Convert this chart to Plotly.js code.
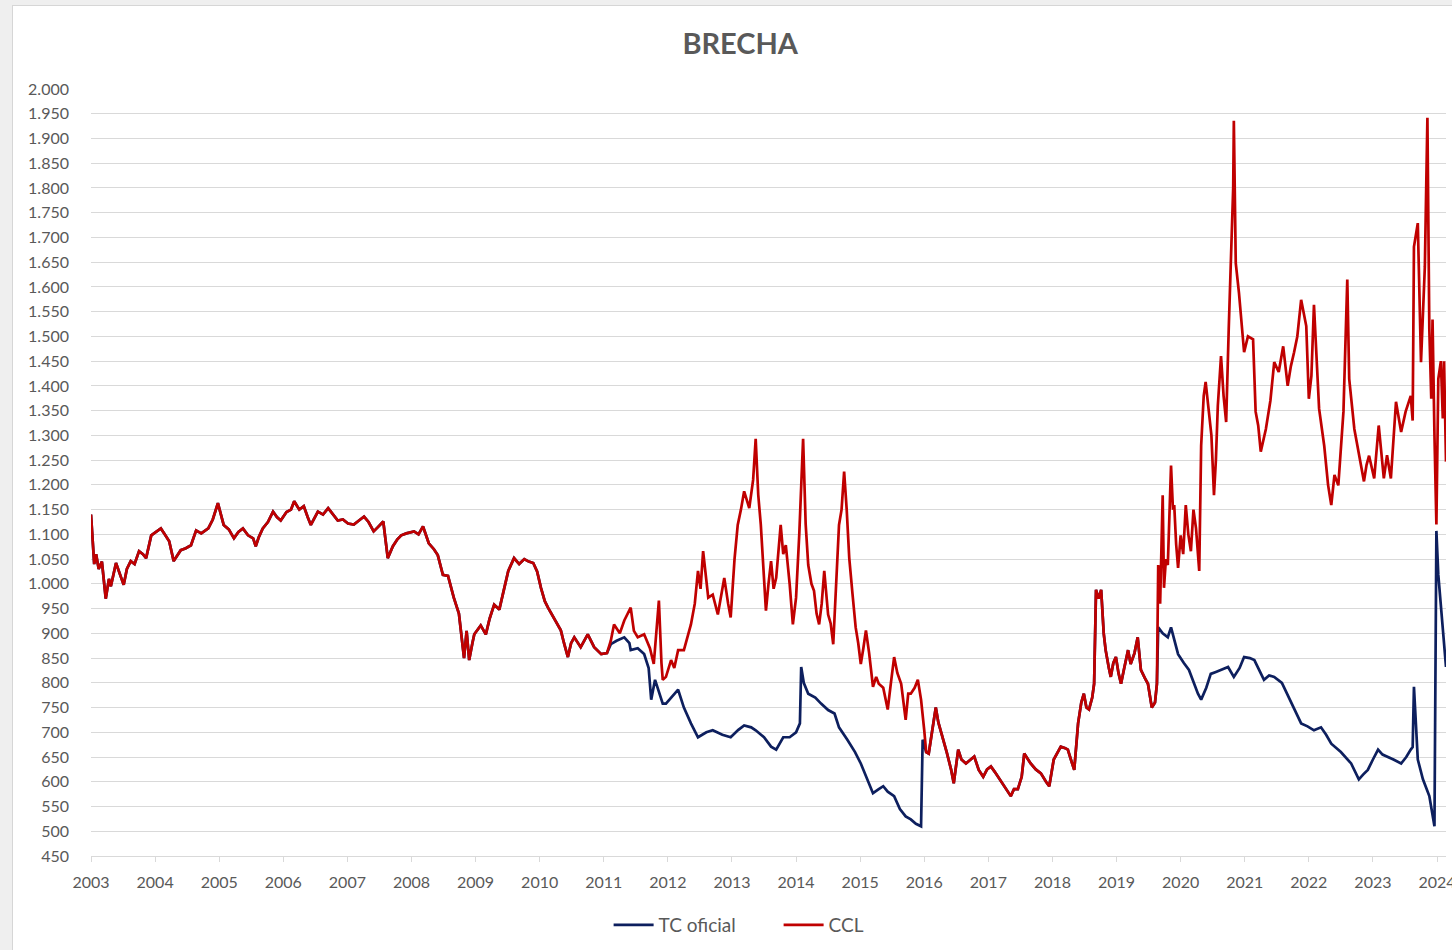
<!DOCTYPE html>
<html>
<head>
<meta charset="utf-8">
<script src="https://cdn.plot.ly/plotly-3.0.1.min.js"></script>
<style>
  html, body { margin: 0; padding: 0; background: #efefef; width: 1452px; height: 950px; overflow: hidden; }
  #chart { position: absolute; left: 12px; top: 5px; width: 1440px; height: 945px; background: #ffffff; box-sizing: border-box; border-left: 1px solid #d6d6d6; border-top: 1px solid #d6d6d6; }
</style>
</head>
<body>
<div id="chart"></div>
<script>
// Period where both series coincide (2003 - early 2011)
const sharedAYears = [2003.00,2003.02,2003.05,2003.08,2003.12,2003.17,2003.23,2003.28,2003.31,2003.39,2003.45,2003.51,2003.56,2003.62,2003.68,2003.75,2003.81,2003.86,2003.94,
  2004.02,2004.09,2004.15,2004.22,2004.29,2004.35,2004.40,2004.48,2004.56,2004.64,2004.72,2004.83,2004.90,2004.98,
  2005.07,2005.15,2005.23,2005.30,2005.37,2005.45,2005.53,2005.57,2005.62,2005.68,2005.76,2005.84,2005.90,2005.96,
  2006.05,2006.12,2006.17,2006.25,2006.32,2006.38,2006.43,2006.54,2006.62,2006.70,2006.78,2006.85,2006.93,
  2007.01,2007.10,2007.18,2007.26,2007.33,2007.41,2007.48,2007.56,2007.63,2007.71,2007.78,2007.84,2007.92,
  2008.04,2008.11,2008.18,2008.27,2008.35,2008.41,2008.49,2008.57,2008.66,2008.74,2008.78,2008.82,2008.86,2008.90,2008.95,2008.98,
  2009.08,2009.16,2009.22,2009.29,2009.37,2009.44,2009.51,2009.60,2009.68,2009.76,2009.83,2009.90,2009.96,
  2010.02,2010.08,2010.13,2010.22,2010.33,2010.38,2010.44,2010.49,2010.54,2010.64,2010.75,2010.85,2010.96,
  2011.05];
const sharedAValues = [1140,1100,1040,1060,1030,1045,970,1010,995,1042,1020,998,1030,1046,1040,1066,1060,1052,1098,
  1105,1112,1100,1086,1046,1058,1068,1072,1078,1108,1102,1112,1130,1163,
  1119,1110,1092,1105,1112,1098,1092,1076,1095,1112,1125,1146,1135,1128,
  1145,1150,1167,1150,1157,1135,1119,1146,1140,1153,1140,1128,1130,
  1122,1120,1128,1136,1125,1106,1115,1126,1052,1076,1090,1098,1102,
  1106,1100,1116,1082,1070,1058,1018,1016,972,940,900,850,905,846,880,898,
  916,898,930,958,948,985,1026,1052,1040,1050,1045,1042,1025,
  992,965,952,932,906,880,852,880,892,872,898,872,858,
  860];

// TC oficial, 2011 - 2015
const tcBYears = [2011.11,2011.20,2011.32,2011.40,2011.42,2011.53,2011.63,2011.70,2011.74,2011.80,2011.86,2011.92,2011.97,
  2012.05,2012.16,2012.25,2012.36,2012.47,2012.60,2012.70,2012.85,2012.98,
  2013.10,2013.19,2013.30,2013.37,2013.50,2013.61,2013.69,2013.80,2013.90,
  2014.00,2014.06,2014.08,2014.12,2014.19,2014.30,2014.39,2014.50,2014.60,2014.67,2014.80,2014.92,
  2015.01,2015.10,2015.20,2015.29,2015.36,2015.43,2015.53,2015.62,2015.71,2015.79,2015.87,2015.95,2015.975];
const tcBValues = [878,885,892,880,866,870,858,830,766,806,780,758,758,
  770,786,750,718,690,700,704,695,690,
  705,714,710,704,690,671,665,690,690,
  700,718,832,800,778,770,758,745,738,710,685,660,
  637,610,577,585,591,580,571,545,530,524,515,510,685];

// CCL, 2011 - 2015
const cclBYears = [2011.11,2011.16,2011.25,2011.32,2011.42,2011.47,2011.53,2011.63,2011.72,2011.78,2011.86,2011.90,2011.92,2011.97,
  2012.05,2012.10,2012.16,2012.25,2012.30,2012.36,2012.42,2012.47,2012.51,2012.55,2012.63,2012.70,2012.78,2012.83,2012.88,2012.94,2012.98,
  2013.04,2013.09,2013.14,2013.19,2013.27,2013.33,2013.37,2013.41,2013.45,2013.49,2013.53,2013.57,2013.61,2013.65,2013.69,2013.76,2013.80,2013.84,2013.90,2013.95,
  2014.00,2014.05,2014.11,2014.15,2014.19,2014.24,2014.28,2014.32,2014.36,2014.40,2014.44,2014.50,2014.54,2014.58,2014.63,2014.67,2014.71,2014.75,2014.79,2014.83,2014.88,2014.93,2014.97,
  2015.01,2015.05,2015.09,2015.14,2015.20,2015.25,2015.29,2015.36,2015.43,2015.48,2015.53,2015.58,2015.64,2015.71,2015.75,2015.79,2015.85,2015.90,2015.95,
  2016.00];
const cclBValues = [885,918,900,926,952,905,892,898,870,838,966,840,806,812,
  846,830,866,866,890,918,960,1026,990,1066,972,978,938,980,1012,960,932,
  1050,1119,1150,1187,1153,1210,1293,1180,1119,1030,946,1000,1046,990,1012,1119,1060,1078,1000,918,
  972,1100,1293,1120,1038,1000,986,940,918,960,1026,938,920,878,1000,1119,1150,1227,1150,1052,980,912,880,
  838,870,906,860,792,812,798,790,746,800,852,820,798,725,778,778,790,806,766,
  704];

// Period where both series coincide again (2016 - mid 2019)
const sharedCYears = [2016.03,2016.07,2016.12,2016.18,2016.22,2016.29,2016.35,2016.42,2016.46,2016.53,2016.58,2016.65,2016.72,2016.78,2016.85,2016.92,2016.98,
  2017.04,2017.10,2017.15,2017.24,2017.30,2017.35,2017.40,2017.46,2017.52,2017.56,2017.62,2017.66,2017.74,2017.82,2017.90,2017.95,
  2018.02,2018.08,2018.13,2018.20,2018.24,2018.30,2018.34,2018.40,2018.45,2018.49,2018.53,2018.57,2018.62,2018.65,2018.68,2018.72,2018.76,2018.80,2018.83,2018.88,2018.91,2018.95,2018.99,
  2019.03,2019.07,2019.12,2019.18,2019.22,2019.28,2019.33,2019.36,2019.38,2019.44,2019.49,2019.55,2019.60,2019.63];
const sharedCValues = [660,657,700,750,720,690,660,624,597,665,645,637,645,651,624,610,625,
  631,620,610,591,580,571,585,585,610,657,645,637,625,617,600,591,
  645,660,671,668,665,640,624,718,760,778,750,746,770,798,988,970,988,900,866,830,812,840,852,
  820,798,830,866,838,860,892,850,826,810,798,750,760,798];

// TC oficial, mid 2019 - 2024
const tcDYears = [2019.65,2019.72,2019.80,2019.85,2019.96,
  2020.05,2020.13,2020.27,2020.32,2020.40,2020.47,2020.55,2020.63,2020.74,2020.83,2020.92,2020.99,
  2021.08,2021.15,2021.30,2021.38,2021.46,2021.58,2021.68,2021.78,2021.88,2021.98,
  2022.08,2022.19,2022.27,2022.35,2022.50,2022.66,2022.78,2022.85,2022.92,
  2023.00,2023.08,2023.15,2023.23,2023.32,2023.44,2023.52,2023.59,2023.62,2023.64,2023.70,2023.78,2023.88,2023.96,2023.99,
  2024.02,2024.08,2024.14];
const tcDValues = [912,900,892,912,858,
  840,826,778,766,790,818,822,826,832,812,830,852,
  850,846,806,815,812,800,772,745,718,712,
  704,710,695,677,660,637,605,615,624,
  645,665,655,651,645,637,650,665,670,792,645,605,571,510,1107,
  1018,920,832];

// CCL, mid 2019 - 2024
const cclDYears = [2019.65,2019.68,2019.72,2019.74,2019.77,2019.80,2019.85,2019.88,2019.90,2019.93,2019.96,
  2020.00,2020.04,2020.08,2020.12,2020.16,2020.20,2020.24,2020.29,2020.32,2020.36,2020.39,2020.44,2020.48,2020.52,2020.55,2020.58,2020.63,2020.67,2020.71,2020.75,2020.78,2020.82,2020.83,2020.86,2020.91,2020.94,2020.99,
  2021.05,2021.13,2021.17,2021.21,2021.25,2021.33,2021.40,2021.46,2021.53,2021.60,2021.67,2021.72,2021.77,2021.82,2021.88,2021.96,
  2022.00,2022.04,2022.08,2022.12,2022.16,2022.24,2022.30,2022.35,2022.40,2022.46,2022.54,2022.60,2022.63,2022.71,2022.78,2022.86,2022.90,2022.94,
  2023.02,2023.09,2023.17,2023.22,2023.28,2023.36,2023.44,2023.51,2023.59,2023.62,2023.64,2023.70,2023.75,2023.81,2023.85,2023.88,2023.91,2023.93,2023.96,2023.99,
  2024.02,2024.06,2024.09,2024.11,2024.14];
const cclDValues = [1038,960,1179,992,1050,1038,1239,1150,1159,1080,1032,
  1098,1060,1159,1100,1066,1150,1112,1026,1279,1380,1408,1348,1300,1179,1250,1360,1460,1380,1327,1514,1628,1801,1936,1648,1588,1548,1468,
  1500,1494,1348,1320,1267,1313,1370,1448,1428,1480,1400,1440,1468,1500,1574,1521,
  1374,1420,1564,1450,1354,1279,1200,1159,1220,1199,1348,1615,1414,1313,1267,1207,1240,1259,
  1213,1320,1213,1260,1213,1368,1307,1348,1380,1330,1681,1729,1448,1641,1942,1514,1374,1534,1300,1120,
  1414,1450,1334,1450,1247];

const seriesNames = ['TC oficial', 'CCL'];
const yearTicks = [2003,2004,2005,2006,2007,2008,2009,2010,2011,2012,2013,2014,2015,2016,2017,2018,2019,2020,2021,2022,2023,2024];

const tcX = [].concat(sharedAYears, tcBYears, sharedCYears, tcDYears);
const tcY = [].concat(sharedAValues, tcBValues, sharedCValues, tcDValues);
const cclX = [].concat(sharedAYears, cclBYears, sharedCYears, cclDYears);
const cclY = [].concat(sharedAValues, cclBValues, sharedCValues, cclDValues);

const FONT = 'Lato, "Open Sans", sans-serif';

const traces = [
  { x: tcX, y: tcY, name: seriesNames[0], type: 'scatter', mode: 'lines',
    line: { color: '#0d1f5e', width: 2.7 } },
  { x: cclX, y: cclY, name: seriesNames[1], type: 'scatter', mode: 'lines',
    line: { color: '#c00000', width: 2.7 } }
];

const layout = {
  width: 1440, height: 945,
  paper_bgcolor: '#ffffff', plot_bgcolor: '#ffffff',
  separators: ',.',
  margin: { l: 78, r: 7, t: 83, b: 90 },
  font: { family: FONT, color: '#595959', size: 15 },
  title: { text: '<b>BRECHA</b>', font: { family: FONT, size: 29, color: '#595959' },
           x: 0.505, xref: 'container', xanchor: 'center', y: 0.96, yref: 'container', yanchor: 'middle' },
  xaxis: {
    type: 'linear', range: [2003, 2024.14],
    tickmode: 'array', tickvals: yearTicks, ticktext: yearTicks.map(String),
    showgrid: false, zeroline: false,
    showline: true, linecolor: '#d9d9d9', linewidth: 1,
    ticks: 'outside', ticklen: 5, tickcolor: '#d9d9d9',
    ticklabelstandoff: 7, ticklabeloverflow: 'allow',
    tickfont: { family: FONT, size: 16, color: '#595959' }
  },
  yaxis: {
    range: [450, 2000], tick0: 450, dtick: 50, tickformat: ',d',
    showgrid: true, gridcolor: '#d9d9d9', gridwidth: 1,
    zeroline: false, showline: false, ticks: '',
    ticklabelstandoff: 21,
    tickfont: { family: FONT, size: 16, color: '#595959' }
  },
  showlegend: true,
  legend: { orientation: 'h', x: 0.382, xanchor: 'left', y: -0.09, yanchor: 'middle',
            entrywidth: 115, entrywidthmode: 'pixels',
            font: { family: FONT, size: 19, color: '#595959' }, itemwidth: 40, tracegroupgap: 0 },
  hovermode: false
};

Plotly.newPlot('chart', traces, layout, { displayModeBar: false, staticPlot: true });
</script>
</body>
</html>
